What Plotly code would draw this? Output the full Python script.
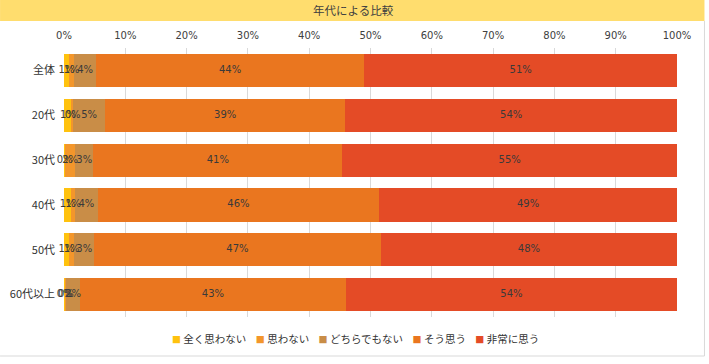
import plotly.graph_objects as go

categories = ["全体", "20代", "30代", "40代", "50代", "60代以上"]
series_names = ["全く思わない", "思わない", "どちらでもない", "そう思う", "非常に思う"]
v_zenku = [0.8, 1.3, 0.2, 1.2, 0.8, 0.2]
v_omowanai = [0.9, 0.2, 1.6, 0.6, 0.9, 0.2]
v_dochira = [3.5, 5.2, 3.0, 3.7, 3.2, 2.2]
v_sou = [43.8, 39.2, 40.6, 45.9, 46.8, 43.4]
v_hijou = [51.0, 54.1, 54.6, 48.6, 48.3, 54.0]
series_values = [v_zenku, v_omowanai, v_dochira, v_sou, v_hijou]
colors = ["#FFC20E", "#F3962B", "#C98D47", "#EA761F", "#E44B26"]
x_ticks = [0, 10, 20, 30, 40, 50, 60, 70, 80, 90, 100]
title_text = "年代による比較"

NUMFONT = "'DejaVu Sans', sans-serif"
JPFONT = "'Noto Sans CJK JP', sans-serif"
fig = go.Figure()
for name, vals, col in zip(series_names, series_values, colors):
    fig.add_trace(go.Bar(
        y=categories, x=vals, name=name, orientation="h",
        marker=dict(color=col, line=dict(width=0)),
        hoverinfo="x+y+name", showlegend=False,
    ))

# data labels drawn above all bars, centred on each stacked segment
base = [0.0] * len(categories)
for name, vals in zip(series_names, series_values):
    mids = [b + v / 2 for b, v in zip(base, vals)]
    fig.add_trace(go.Scatter(
        x=mids, y=categories, mode="text",
        text=[f"{v:.0f}%" for v in vals],
        textposition="middle center", cliponaxis=False,
        textfont=dict(color="#3a3a3a", size=10, family=NUMFONT),
        hoverinfo="skip", showlegend=False,
    ))
    base = [b + v for b, v in zip(base, vals)]

W, H = 709, 364
L, R, T, B = 64, 31.5, 48, 47
pw = W - L - R
ph = H - T - B

def px_x(x):
    return (x - L) / pw

def px_y(y):
    return 1 - (y - T) / ph

fig.update_layout(
    width=W, height=H,
    barmode="stack", bargap=0.26,
    margin=dict(l=L, r=R, t=T, b=B, autoexpand=False),
    paper_bgcolor="white", plot_bgcolor="white",
    font=dict(family=JPFONT, size=11, color="#333333"),
    xaxis=dict(side="top", range=[0, 100], tickvals=x_ticks,
               ticktext=[f"{t}%" for t in x_ticks], automargin=False,
               showgrid=True, gridcolor="#D9D9D9", gridwidth=1,
               zeroline=False, showline=False,
               tickfont=dict(size=10, color="#404040", family=NUMFONT),
               ticks="outside", ticklen=4, tickcolor="rgba(0,0,0,0)"),
    yaxis=dict(autorange="reversed", showgrid=False, zeroline=False,
               automargin=False,
               tickfont=dict(size=11, color="#333333", family=JPFONT),
               ticks="", ticklabelstandoff=8),
    showlegend=False,
)

# compact legend built from the series names and colours
legend_html = "    ".join(
    f"<span style='color:{c};font-size:9px'>■</span> {n}" for n, c in zip(series_names, colors)
)
fig.add_annotation(text=legend_html, xref="paper", yref="paper",
                   x=px_x(356), y=px_y(338), showarrow=False,
                   xanchor="center", yanchor="middle",
                   font=dict(size=10.5, color="#333333", family=JPFONT))

# title bar
fig.add_shape(type="rect", xref="paper", yref="paper",
              x0=px_x(0), x1=px_x(705),
              y0=px_y(21), y1=px_y(0),
              fillcolor="#FFDD6E", line=dict(width=0), layer="below")
fig.add_annotation(text=title_text, xref="paper", yref="paper",
                   x=px_x(354), y=px_y(10.5),
                   showarrow=False, xanchor="center", yanchor="middle",
                   font=dict(size=11.5, color="#404040", family=JPFONT))
# right and bottom border
fig.add_shape(type="line", xref="paper", yref="paper",
              x0=px_x(705), x1=px_x(705), y0=px_y(356), y1=px_y(21),
              line=dict(color="#D9D9D9", width=1))
fig.add_shape(type="line", xref="paper", yref="paper",
              x0=px_x(0), x1=px_x(705), y0=px_y(356), y1=px_y(356),
              line=dict(color="#D9D9D9", width=1))

fig.write_html("out.html", config={"displayModeBar": False},
               post_script="document.body.style.margin='0';")
